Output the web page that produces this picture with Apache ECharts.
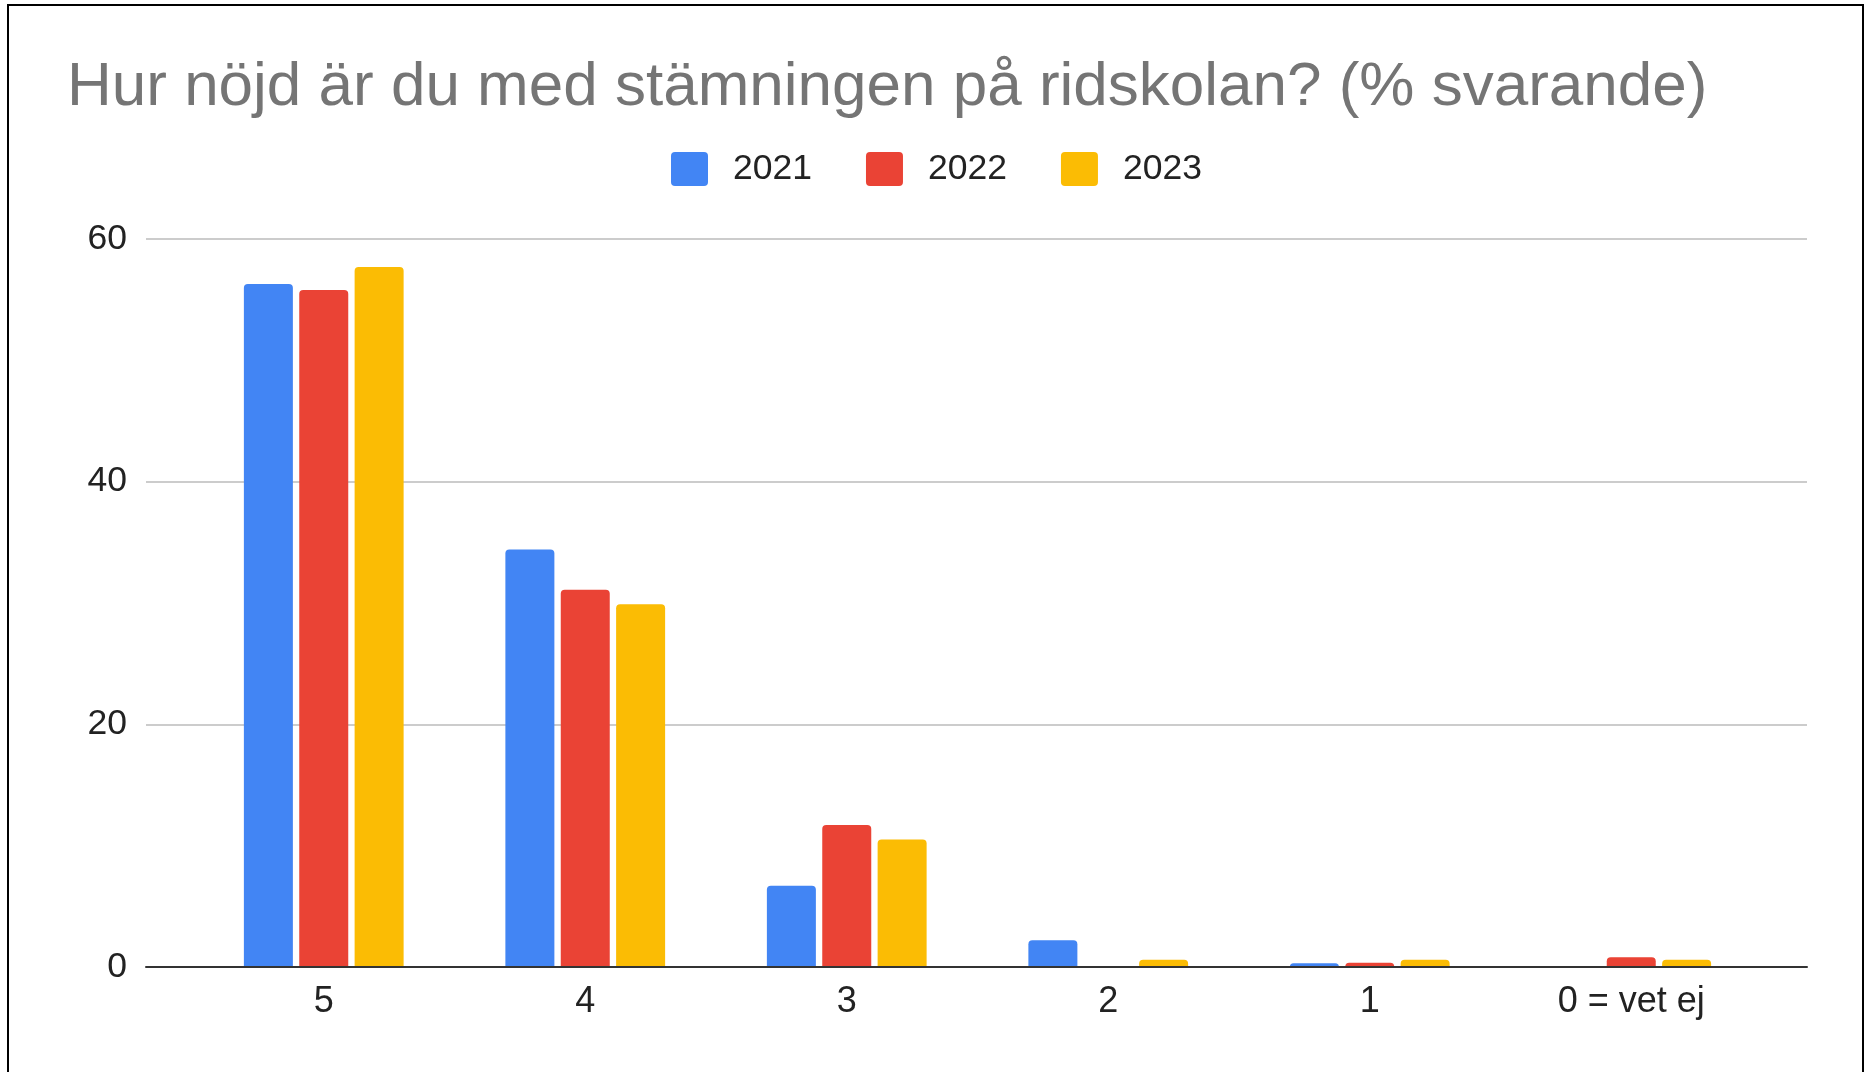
<!DOCTYPE html>
<html>
<head>
<meta charset="utf-8">
<script src="https://cdn.jsdelivr.net/npm/echarts@6/dist/echarts.min.js"></script>
<style>
  html, body { margin: 0; padding: 0; background: #fff; }
  #chart { width: 1865px; height: 1072px; }
</style>
</head>
<body>
<div id="chart"></div>
<script>
const categories = ['5', '4', '3', '2', '1', '0 = vet ej'];
const years = ['2021', '2022', '2023'];
const values2021 = [56.3, 34.4, 6.7, 2.2, 0.3, 0];
const values2022 = [55.8, 31.1, 11.7, 0, 0.35, 0.8];
const values2023 = [57.7, 29.9, 10.5, 0.6, 0.6, 0.6];
const colors = ['#4285F4', '#EA4335', '#FBBC04'];

const font = 'Arial, "Liberation Sans", Helvetica, sans-serif';
const legendIcon = 'path://M4,0 H33 A4,4 0 0 1 37,4 V30 A4,4 0 0 1 33,34 H4 A4,4 0 0 1 0,30 V4 A4,4 0 0 1 4,0 Z';

const myChart = echarts.init(document.getElementById('chart'));

const barSeries = [values2021, values2022, values2023].map((data, i) => ({
  name: years[i],
  type: 'bar',
  xAxisIndex: 1,
  yAxisIndex: 1,
  barWidth: 49,
  barGap: '13%',
  itemStyle: { color: colors[i], borderRadius: [4, 4, 0, 0] },
  data: data
}));

const option = {
  animation: false,
  color: colors,
  textStyle: { fontFamily: font },
  title: {
    text: 'Hur nöjd är du med stämningen på ridskolan? (% svarande)',
    left: 62,
    top: 52,
    textStyle: { fontSize: 62, fontWeight: 'normal', color: '#757575', fontFamily: font }
  },
  legend: {
    top: 146,
    left: 666,
    icon: legendIcon,
    itemWidth: 37,
    itemHeight: 34,
    itemGap: 54,
    textStyle: { fontSize: 35.5, color: '#222', fontFamily: font, padding: [0, 0, 0, 20] },
    data: years
  },
  grid: [
    { left: 146, right: 58, top: 239, bottom: 105 },
    { left: 193, right: 103, top: 239, bottom: 105 }
  ],
  xAxis: [
    {
      type: 'category',
      gridIndex: 0,
      data: [''],
      axisLine: { show: true, lineStyle: { color: '#333', width: 2 } },
      axisTick: { show: false },
      axisLabel: { show: false },
      splitLine: { show: false },
      z: 5
    },
    {
      type: 'category',
      gridIndex: 1,
      data: categories,
      axisLine: { show: false },
      axisTick: { show: false },
      axisLabel: { fontSize: 36, color: '#222', margin: 17, fontFamily: font }
    }
  ],
  yAxis: [
    {
      type: 'value',
      gridIndex: 0,
      min: 0,
      max: 60,
      interval: 20,
      axisLine: { show: false },
      axisTick: { show: false },
      axisLabel: { fontSize: 35.5, color: '#222', margin: 19, fontFamily: font },
      splitLine: { lineStyle: { color: '#cccccc', width: 2 } }
    },
    {
      type: 'value',
      gridIndex: 1,
      min: 0,
      max: 60,
      interval: 20,
      show: false
    }
  ],
  graphic: [
    {
      type: 'polyline',
      shape: { points: [[8, 1072], [8, 5], [1863, 5], [1863, 1072]] },
      style: { stroke: '#000', lineWidth: 2, fill: null }
    }
  ],
  series: barSeries
};

option && myChart.setOption(option);
</script>
</body>
</html>
